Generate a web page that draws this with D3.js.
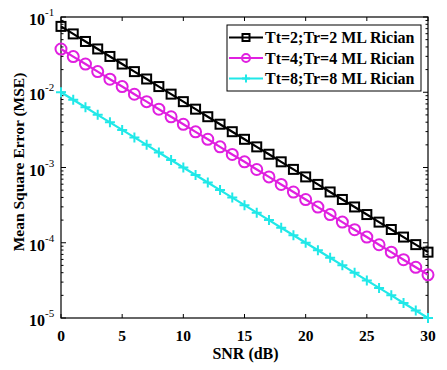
<!DOCTYPE html>
<html><head><meta charset="utf-8">
<script src="https://cdn.jsdelivr.net/npm/d3@7"></script>
<style>body{margin:0;background:#fff}svg{display:block}</style>
</head><body>
<svg id="c" width="447" height="370"></svg>
<script>
const snr = d3.range(0, 31);
const mseTt2 = [0.075,0.0596,0.0473,0.0376,0.0299,0.0237,0.0188,0.0150,0.0119,0.00944,
  0.0075,0.00596,0.00473,0.00376,0.00299,0.00237,0.00188,0.00150,0.00119,0.000944,
  0.00075,0.000596,0.000473,0.000376,0.000299,0.000237,0.000188,0.000150,0.000119,0.0000944,0.000075];
const mseTt4 = [0.0375,0.0298,0.0237,0.0188,0.0149,0.0119,0.0094,0.0075,0.00595,0.00472,
  0.00375,0.00298,0.00237,0.00188,0.00149,0.00119,0.00094,0.00075,0.000595,0.000472,
  0.000375,0.000298,0.000237,0.000188,0.000149,0.000119,0.000094,0.000075,0.0000595,0.0000472,0.0000375];
const mseTt8 = [0.01,0.00794,0.00631,0.00501,0.00398,0.00316,0.00251,0.00200,0.00158,0.00126,
  0.001,0.000794,0.000631,0.000501,0.000398,0.000316,0.000251,0.000200,0.000158,0.000126,
  0.0001,0.0000794,0.0000631,0.0000501,0.0000398,0.0000316,0.0000251,0.0000200,0.0000158,0.0000126,0.00001];
const seriesNames = ["Tt=2;Tr=2 ML Rician","Tt=4;Tr=4 ML Rician","Tt=8;Tr=8 ML Rician"];
const seriesColors = ["#000000","#e020e0","#20e8e8"];
const seriesMarkers = ["square","circle","plus"];
const xTicks = [0,5,10,15,20,25,30];
const yExps = [-1,-2,-3,-4,-5];

const svg = d3.select("#c");
const L=61, R=428, T=17, B=318;
const x = d3.scaleLinear().domain([0,30]).range([L,R]);
const y = d3.scaleLog().domain([1e-5,1e-1]).range([B,T]);
const font = "'Liberation Serif','Times New Roman',serif";

const g = svg.append("g");
g.append("rect").attr("x",L).attr("y",T).attr("width",R-L).attr("height",B-T)
  .attr("fill","#fff").attr("stroke","#000").attr("stroke-width",1.2);

xTicks.forEach(v=>{
  g.append("line").attr("x1",x(v)).attr("x2",x(v)).attr("y1",B).attr("y2",B-4).attr("stroke","#000");
  g.append("line").attr("x1",x(v)).attr("x2",x(v)).attr("y1",T).attr("y2",T+4).attr("stroke","#000");
  g.append("text").attr("x",x(v)).attr("y",B+23).attr("text-anchor","middle")
    .attr("font-family",font).attr("font-weight","bold").attr("font-size",15.5).text(v);
});
yExps.forEach(e=>{
  const v=Math.pow(10,e);
  g.append("line").attr("x1",L).attr("x2",L+5).attr("y1",y(v)).attr("y2",y(v)).attr("stroke","#000");
  g.append("line").attr("x1",R).attr("x2",R-5).attr("y1",y(v)).attr("y2",y(v)).attr("stroke","#000");
  g.append("text").attr("x",45).attr("y",y(v)+8).attr("text-anchor","end")
    .attr("font-family",font).attr("font-weight","bold").attr("font-size",16).text("10");
  g.append("text").attr("x",45).attr("y",y(v)-1).attr("text-anchor","start")
    .attr("font-family",font).attr("font-size",11).text(e);
  if(e>-5){
    for(let m=2;m<=9;m++){
      const mv=m*Math.pow(10,e-1);
      g.append("line").attr("x1",L).attr("x2",L+2.5).attr("y1",y(mv)).attr("y2",y(mv)).attr("stroke","#000");
      g.append("line").attr("x1",R).attr("x2",R-2.5).attr("y1",y(mv)).attr("y2",y(mv)).attr("stroke","#000");
    }
  }
});

g.append("text").attr("x",(L+R)/2+1).attr("y",359).attr("text-anchor","middle")
  .attr("font-family",font).attr("font-weight","bold").attr("font-size",16).text("SNR (dB)");
g.append("text").attr("transform",`translate(24,162) rotate(-90)`).attr("text-anchor","middle")
  .attr("font-family",font).attr("font-weight","bold").attr("font-size",15.5).text("Mean Square Error (MSE)");

function marker(sel, type, color){
  if(type==="square"){
    sel.append("rect").attr("x",-4.5).attr("y",-4.5).attr("width",9).attr("height",9)
      .attr("fill","none").attr("stroke",color).attr("stroke-width",2);
  } else if(type==="circle"){
    sel.append("circle").attr("r",5.5).attr("fill","none").attr("stroke",color).attr("stroke-width",2);
  } else {
    sel.append("path").attr("d","M-5,0H5M0,-5V5").attr("stroke",color).attr("stroke-width",2);
  }
}

const data=[mseTt2,mseTt4,mseTt8];
const line=d3.line().x((d,i)=>x(snr[i])).y(d=>y(d));
const plot=g.append("g");
data.forEach((arr,k)=>{
  plot.append("path").datum(arr).attr("d",line).attr("fill","none")
    .attr("stroke",seriesColors[k]).attr("stroke-width",2.2);
  arr.forEach((v,i)=>{
    const mg=plot.append("g").attr("transform",`translate(${x(snr[i])},${y(v)})`);
    marker(mg,seriesMarkers[k],seriesColors[k]);
  });
});

const lg=g.append("g");
lg.append("rect").attr("x",227).attr("y",25).attr("width",194).attr("height",66)
  .attr("fill","#fff").attr("stroke","#000").attr("stroke-width",1);
seriesNames.forEach((n,k)=>{
  const yy=37.5+k*20.5;
  lg.append("line").attr("x1",229).attr("x2",263).attr("y1",yy).attr("y2",yy)
    .attr("stroke",seriesColors[k]).attr("stroke-width",2.2);
  const mg=lg.append("g").attr("transform",`translate(246,${yy})`);
  if(seriesMarkers[k]==="square"){
    mg.append("rect").attr("x",-3.5).attr("y",-3.5).attr("width",7).attr("height",7).attr("fill","none").attr("stroke",seriesColors[k]).attr("stroke-width",2);
  } else if(seriesMarkers[k]==="circle"){
    mg.append("circle").attr("r",4).attr("fill","none").attr("stroke",seriesColors[k]).attr("stroke-width",2);
  } else {
    mg.append("path").attr("d","M-4,0H4M0,-4V4").attr("stroke",seriesColors[k]).attr("stroke-width",2);
  }
  lg.append("text").attr("x",265).attr("y",yy+5.5).attr("font-family",font).attr("font-weight","bold")
    .attr("font-size",16).text(n);
});
</script>
</body></html>
